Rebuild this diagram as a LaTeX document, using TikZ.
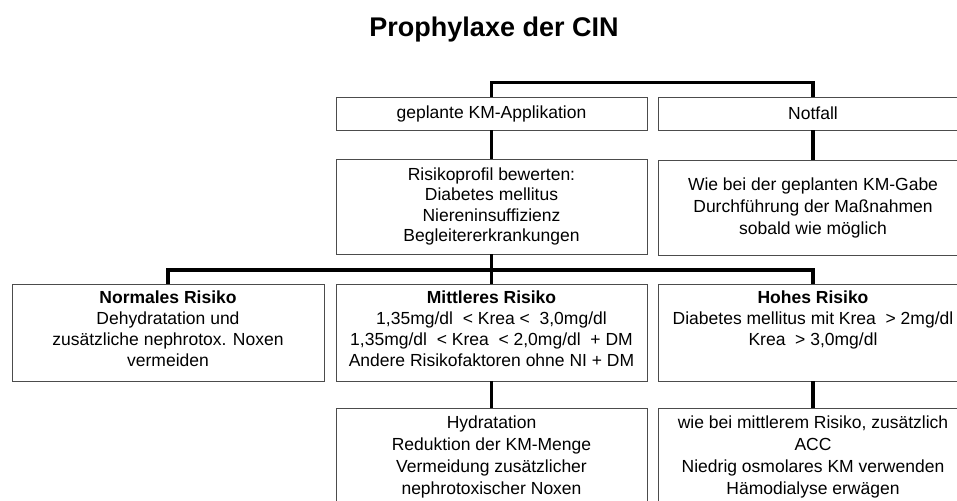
\documentclass[tikz,border=0pt]{standalone}
\usepackage{fontspec}
\setmainfont{Liberation Sans}
\begin{document}
\begin{tikzpicture}[x=1pt,y=-1pt,
  box/.style={draw=black!70, line width=0.9pt, inner sep=0pt, align=center,
    font=\fontsize{17.5}{20.5}\selectfont},
  txt/.style={align=center, inner sep=0pt, anchor=north,
    font=\fontsize{17.5}{21}\selectfont},
  conn/.style={line width=3.6pt, black}]
\useasboundingbox (0,0) rectangle (957,500);
\clip (0,0) rectangle (957,500);
% title
\node[font=\fontsize{27}{32}\selectfont\bfseries, inner sep=0pt] (title) at (494,30) {Prophylaxe der CIN};
% boxes
\node[box, minimum width=311pt, minimum height=33pt] (geplant) at (491.5,113.5) {geplante KM-Applikation};
\node[box, minimum width=310pt, minimum height=33pt] (notfall) at (813,113.5) {Notfall};
\node[box, minimum width=311pt, minimum height=95pt] (risiko) at (491.5,206.5)
  {Risikoprofil bewerten:\\Diabetes mellitus\\Niereninsuffizienz\\Begleitererkrankungen};
\node[box, minimum width=310pt, minimum height=95pt, font=\fontsize{17.5}{22}\selectfont] (notfall2) at (813,208)
  {Wie bei der geplanten KM-Gabe\\Durchführung der Maßnahmen\\sobald wie möglich};
\node[box, minimum width=312pt, minimum height=97pt] (normal) at (168,332.5) {};
\node[box, minimum width=311pt, minimum height=97pt] (mittel) at (491.5,332.5) {};
\node[box, minimum width=310pt, minimum height=97pt] (hoch) at (813,332.5) {};
\node[box, minimum width=311pt, minimum height=104pt] (hyd) at (491.5,460) {};
\node[box, minimum width=310pt, minimum height=104pt] (hoch2) at (813,460) {};
% texts
\node[txt] (normaltxt) at (168,291) {\textbf{Normales Risiko}\\Dehydratation und\\zusätzliche nephrotox. Noxen\\vermeiden};
\node[txt] (mitteltxt) at (491.5,291) {\textbf{Mittleres Risiko}\\1,35mg/dl~ < Krea <~ 3,0mg/dl\\1,35mg/dl~ < Krea~ < 2,0mg/dl~ + DM\\Andere Risikofaktoren ohne NI + DM};
\node[txt] (hochtxt) at (813,291) {\textbf{Hohes Risiko}\\Diabetes mellitus mit Krea~ > 2mg/dl\\Krea~ > 3,0mg/dl};
\node[txt, font=\fontsize{17.5}{22}\selectfont] (hydtxt) at (491.5,416) {Hydratation\\Reduktion der KM-Menge\\Vermeidung zusätzlicher\\nephrotoxischer Noxen};
\node[txt, font=\fontsize{17.5}{22}\selectfont] (hoch2txt) at (813,416) {wie bei mittlerem Risiko, zusätzlich\\ACC\\Niedrig osmolares KM verwenden\\Hämodialyse erwägen};
% connectors
\coordinate (bar) at (491.5,270);
\draw[conn] (geplant.north) -- ++(0,-14) -| (notfall.north);
\draw[conn] (geplant.south) -- (risiko.north);
\draw[conn] (notfall.south) -- (notfall2.north);
\draw[conn] (risiko.south) -- (bar) -- (mittel.north);
\draw[conn] (normal.north) |- (bar) -| (hoch.north);
\draw[conn] (mittel.south) -- (hyd.north);
\draw[conn] (hoch.south) -- (hoch2.north);
\end{tikzpicture}
\end{document}
